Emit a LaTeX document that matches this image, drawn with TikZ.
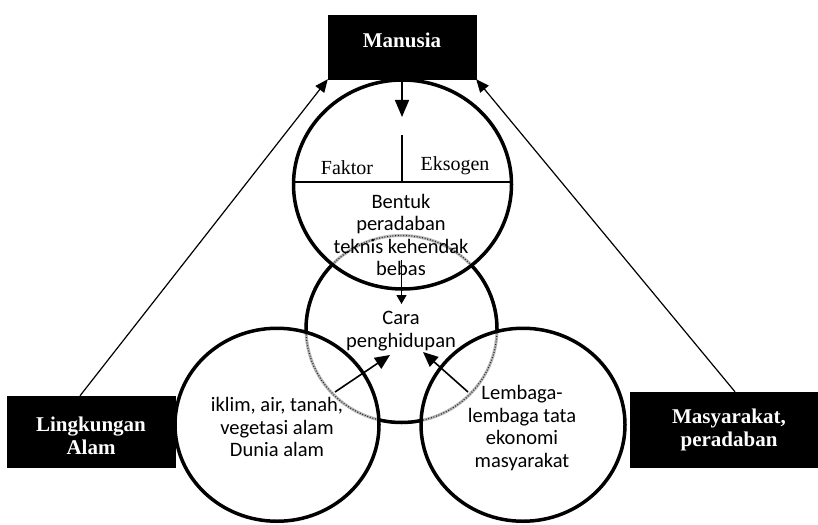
\documentclass[tikz,border=0pt]{standalone}
\usepackage{fontspec}
\setmainfont{Liberation Serif}
\newfontfamily\carl{Carlito}
\usetikzlibrary{arrows.meta,calc}
\begin{document}
\begin{tikzpicture}[x=1pt,y=-1pt,
  blackbox/.style={fill=black, draw=black, inner sep=0pt},
  boxtext/.style={text=white, font=\bfseries\fontsize{21}{23}\selectfont, align=center, inner sep=0pt},
  bodytext/.style={font=\carl\fontsize{20.5}{22.5}\selectfont, align=center, inner sep=0pt},
  serif/.style={font=\fontsize{20}{22}\selectfont, inner sep=0pt, anchor=base},
  ring/.style={line width=3.5pt},
  thinline/.style={line width=1.4pt},
  longarrow/.style={line width=1.2pt, -{Triangle[length=13pt,width=11pt]}},
  midarrow/.style={line width=1.6pt, -{Triangle[length=15pt,width=13pt]}},
  dottedring/.style={line width=3pt, draw=gray!55},
  dottedover/.style={line width=1.2pt, draw=black!85, dash pattern=on 0.9pt off 1.8pt}
]
\useasboundingbox (0,0) rectangle (818,524);

% boxes
\node[blackbox, minimum width=148pt, minimum height=64pt] (manusia) at (402,47) {};
\node[boxtext] (mtext) at (402,40.5) {Manusia};
\node[blackbox, minimum width=168pt, minimum height=71pt] (lingk) at (91,431.5) {};
\node[boxtext] (ltext) at (91,436) {Lingkungan\\Alam};
\node[blackbox, minimum width=198pt, minimum height=75pt] (masy) at (729,429.5) {};
\node[boxtext] (rtext) at (729,429.5) {Masyarakat,\\peradaban};

% middle circle: dotted parts inside the other circles, black elsewhere
\draw[dottedring] (401.5,329) ellipse [x radius=95.5pt, y radius=93.5pt];
\draw[dottedover] (401.5,329) ellipse [x radius=95.5pt, y radius=93.5pt];
\begin{scope}[even odd rule]
  \clip (-10,-10) rectangle (830,540)
    (402.5,184.5) ellipse [x radius=109pt, y radius=104.5pt]
    (277,424.75) ellipse [x radius=102pt, y radius=96.5pt]
    (523,424.75) ellipse [x radius=102pt, y radius=96.5pt];
  \draw[ring] (401.5,329) ellipse [x radius=95.5pt, y radius=93.5pt];
\end{scope}

% other circles
\draw[ring] (402.5,184.5) ellipse [x radius=109pt, y radius=104.5pt];
\draw[ring] (277,424.75) ellipse [x radius=102pt, y radius=96.5pt];
\draw[ring] (523,424.75) ellipse [x radius=102pt, y radius=96.5pt];

% dividers in top circle
\coordinate (chordl) at (293.5,182);
\coordinate (chordr) at (511.5,182);
\coordinate (divtop) at (402,135);
\coordinate (divbot) at (402,182);
\draw[thinline] (chordl) -- (chordr);
\draw[thinline] (divtop) -- (divbot);

% long arrows
\draw[longarrow] ([xshift=-11pt]lingk.north) -- (manusia.south west);
\draw[longarrow] ([xshift=6pt]masy.north) -- (manusia.south east);

% short arrows
\coordinate (downtip) at (402,117);
\draw[line width=1.5pt, -{Triangle[length=17pt,width=14pt]}] (manusia.south) -- (downtip);
\coordinate (bebastop) at (401.5,260);
\coordinate (caratip) at (401.5,304);
\draw[line width=1.3pt, -{Triangle[length=9pt,width=10pt]}] (bebastop) -- (caratip);
\coordinate (lstart) at (335,392);
\coordinate (ltip) at (390,355);
\draw[midarrow] (lstart) -- (ltip);
\coordinate (rstart) at (468,392);
\coordinate (rtip) at (423,352);
\draw[midarrow] (rstart) -- (rtip);

% texts
\node[serif] (faktor) at (347,174) {Faktor};
\node[serif] (eksogen) at (455,170) {Eksogen};
\node[bodytext] (bentuk) at (401,235) {Bentuk\\peradaban\\teknis kehendak\\bebas};
\node[bodytext] (cara) at (401,331) {Cara\\penghidupan};
\node[bodytext] (iklim) at (277,427) {iklim, air, tanah,\\vegetasi alam\\Dunia alam};
\node[bodytext] (lembaga) at (522,428) {Lembaga-\\lembaga tata\\ekonomi\\masyarakat};
\end{tikzpicture}
\end{document}
